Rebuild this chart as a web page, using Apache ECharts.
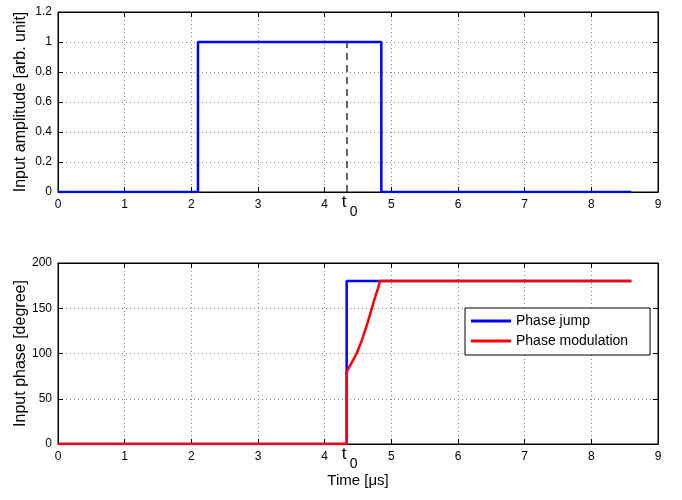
<!DOCTYPE html>
<html>
<head>
<meta charset="utf-8">
<script src="https://cdn.jsdelivr.net/npm/echarts@6/dist/echarts.min.js"></script>
<style>
html,body{margin:0;padding:0;background:#fff;}
#main{width:682px;height:500px;}
</style>
</head>
<body>
<div id="main"></div>
<script>
// top panel: amplitude pulse
var ampT = [0, 2.1, 2.1, 4.85, 4.85, 8.6];
var ampV = [0, 0, 1, 1, 0, 0];
var t0 = 4.33;
// bottom panel: phase
var jumpT = [0, 4.33, 4.33, 8.6];
var jumpV = [0, 0, 180, 180];
var modT = [0, 4.33, 4.33, 4.4, 4.48, 4.56, 4.64, 4.7, 4.76, 4.8, 4.83, 8.6];
var modV = [0, 0, 80, 89, 100, 115, 133, 148, 163, 172, 180, 180];
var xTicks = [0, 1, 2, 3, 4, 5, 6, 7, 8, 9];
var ampTicks = [0, 0.2, 0.4, 0.6, 0.8, 1, 1.2];
var phaseTicks = [0, 50, 100, 150, 200];

function pairs(xs, ys) {
    var out = [];
    for (var i = 0; i < xs.length; i++) out.push([xs[i], ys[i]]);
    return out;
}

var font = 'Liberation Sans, Arial, sans-serif';
var gridLine = {show: true, lineStyle: {color: '#888', width: 1, type: [1, 3]}};

function xAx(gi, pos, withLabel) {
    return {
        type: 'value', gridIndex: gi, position: pos,
        min: 0, max: 9, interval: 1,
        axisLine: {show: true, onZero: false, lineStyle: {color: '#000', width: 1}},
        axisTick: {show: true, inside: true, length: 5, lineStyle: {color: '#000'}},
        axisLabel: {show: withLabel, color: '#000', fontSize: 12, fontFamily: font, margin: 7},
        splitLine: withLabel ? gridLine : {show: false}
    };
}
function yAx(gi, pos, max, step, name, withLabel) {
    return {
        type: 'value', gridIndex: gi, position: pos,
        min: 0, max: max, interval: step,
        name: withLabel ? name : '',
        nameLocation: 'middle', nameGap: 29, nameMoveOverlap: false,
        nameTextStyle: {color: '#000', fontSize: 16, fontFamily: font},
        axisLine: {show: true, onZero: false, lineStyle: {color: '#000', width: 1}},
        axisTick: {show: true, inside: true, length: 5, lineStyle: {color: '#000'}},
        axisLabel: {show: withLabel, color: '#000', fontSize: 12, fontFamily: font, margin: 6},
        splitLine: withLabel ? gridLine : {show: false}
    };
}

var chart = echarts.init(document.getElementById('main'));
var option = {
    animation: false,
    backgroundColor: '#fff',
    grid: [
        {left: 58, top: 12, width: 600, height: 180, show: true, borderColor: '#000', borderWidth: 1, outerBoundsMode: 'none'},
        {left: 58, top: 263, width: 600, height: 181, show: true, borderColor: '#000', borderWidth: 1, outerBoundsMode: 'none'}
    ],
    xAxis: [
        xAx(0, 'bottom', true),
        xAx(1, 'bottom', true),
        xAx(0, 'top', false),
        xAx(1, 'top', false)
    ],
    yAxis: [
        yAx(0, 'left', 1.2, 0.2, 'Input amplitude [arb. unit]', true),
        yAx(1, 'left', 200, 50, 'Input phase [degree]', true),
        yAx(0, 'right', 1.2, 0.2, '', false),
        yAx(1, 'right', 200, 50, '', false)
    ],
    legend: {
        data: ['Phase jump', 'Phase modulation'],
        orient: 'vertical',
        left: 465, top: 308,
        padding: [6, 22, 7, 6],
        icon: 'rect',
        itemWidth: 40, itemHeight: 3, itemGap: 6,
        backgroundColor: '#fff',
        borderColor: '#000', borderWidth: 1, borderRadius: 0,
        textStyle: {color: '#000', fontSize: 14, fontFamily: font}
    },
    series: [
        {
            type: 'line', xAxisIndex: 0, yAxisIndex: 0,
            data: pairs(ampT, ampV), symbol: 'none',
            lineStyle: {color: '#0000ff', width: 2.5},
            itemStyle: {color: '#0000ff'},
            markLine: {
                silent: true, symbol: 'none',
                label: {show: false},
                lineStyle: {color: '#333', type: [7, 5], width: 1.5},
                data: [[{coord: [t0, 0]}, {coord: [t0, 1]}]]
            }
        },
        {
            name: 'Phase jump', type: 'line', xAxisIndex: 1, yAxisIndex: 1,
            data: pairs(jumpT, jumpV), symbol: 'none',
            lineStyle: {color: '#0000ff', width: 2.5},
            itemStyle: {color: '#0000ff'}
        },
        {
            name: 'Phase modulation', type: 'line', xAxisIndex: 1, yAxisIndex: 1,
            data: pairs(modT, modV), symbol: 'none', smooth: false,
            lineStyle: {color: '#ff0000', width: 2.5},
            itemStyle: {color: '#ff0000'}
        }
    ]
};
chart.setOption(option);

// t0 labels under both x axes and the x axis title
var p0 = chart.convertToPixel({gridIndex: 0}, [t0, 0]);
var p1 = chart.convertToPixel({gridIndex: 1}, [t0, 0]);
var mid = chart.convertToPixel({gridIndex: 1}, [4.5, 0]);
function tLabel(p) {
    return [
        {type: 'text', x: p[0] - 5, y: p[1] + 2, style: {text: 't', font: '17px ' + font, fill: '#000'}},
        {type: 'text', x: p[0] + 3, y: p[1] + 13, style: {text: '0', font: '14px ' + font, fill: '#000'}}
    ];
}
chart.setOption({
    graphic: tLabel(p0).concat(tLabel(p1)).concat([
        {type: 'text', x: mid[0], y: p1[1] + 29, style: {text: 'Time [μs]', font: '15px ' + font, fill: '#000', align: 'center'}}
    ])
});
</script>
</body>
</html>
